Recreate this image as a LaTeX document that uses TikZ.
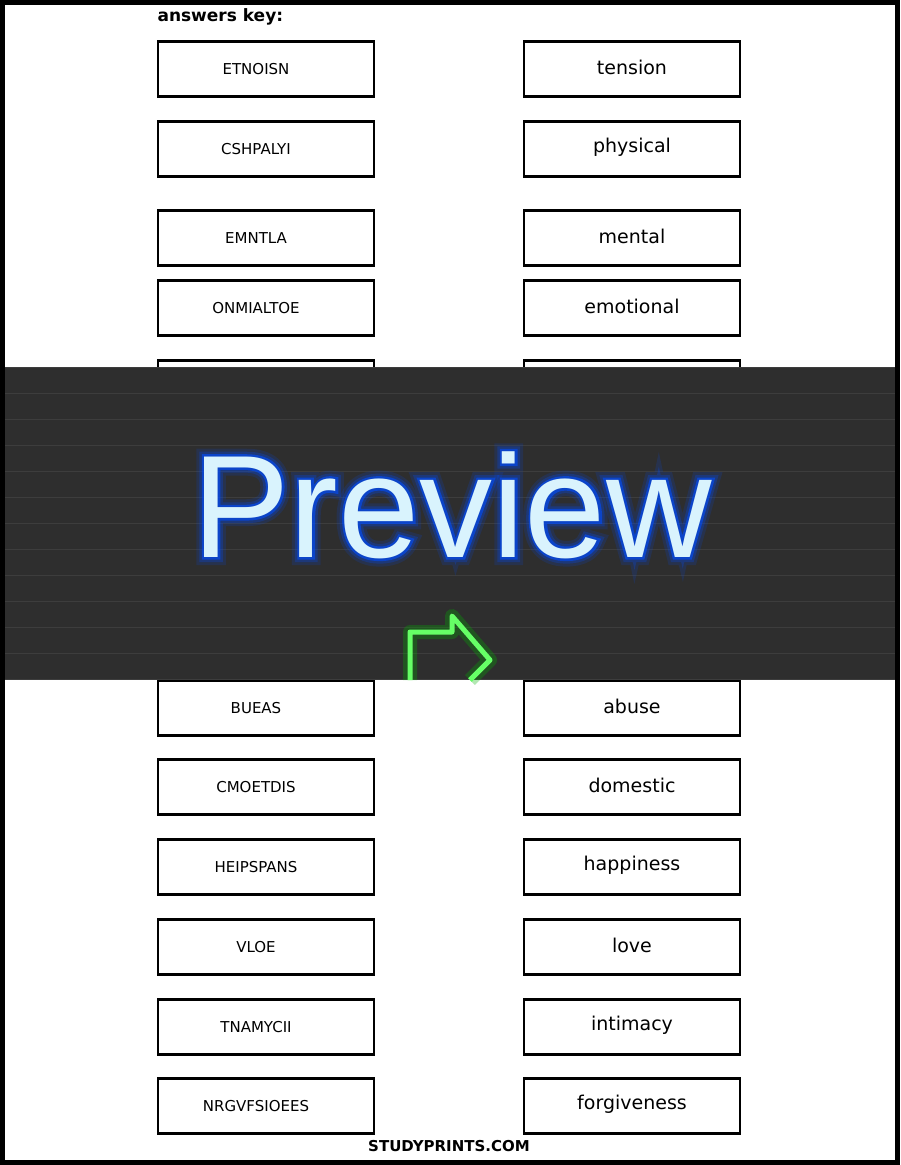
\documentclass[tikz,border=0pt]{standalone}
\usepackage{fontspec}
\setmainfont{DejaVu Sans}
\newfontfamily\neonfont{Liberation Sans}
\usetikzlibrary{positioning}

\begin{document}
\begin{tikzpicture}[x=1pt, y=-1pt,
    wordbox/.style={draw=black, line width=2.5pt, minimum width=216pt, minimum height=55pt, inner sep=0pt},
    scrambled/.style={font=\fontsize{15}{17}\selectfont},
    answer/.style={font=\fontsize{19}{21}\selectfont},
]
\useasboundingbox (0,0) rectangle (900,1165);
\fill[white] (0,0) rectangle (900,1165);

% rows of boxes
\foreach \y/\lw/\rw [count=\i] in {69/ETNOISN/tension, 149/CSHPALYI/physical, 238/EMNTLA/mental, 308/ONMIALTOE/emotional, 388//, 468//, 548//, 628//, 708/BUEAS/abuse, 787/CMOETDIS/domestic, 867/HEIPSPANS/happiness, 947/VLOE/love, 1027/TNAMYCII/intimacy, 1106/NRGVFSIOEES/forgiveness} {
  \node[wordbox] (left\i) at (266,\y) {};
  \node[wordbox] (right\i) at (632,\y) {};
  \node[scrambled] at (256,\y) {\lw};
  \node[answer] at (632,\y-2) {\rw};
}

\node[font=\bfseries\fontsize{17}{19}\selectfont, anchor=west] (title) at (154,17) {answers key:};
\node[font=\bfseries\fontsize{15}{17}\selectfont] (footer) at (449,1146) {STUDYPRINTS.COM};

% preview banner
\fill[black!82] (0,367) rectangle (900,680);
\foreach \r in {0,...,12} {
  \draw[black!76, line width=1pt] (0,367+\r*26) -- (900,367+\r*26);
}
\draw[green!70!black, line width=14pt, opacity=0.3, line join=round] (410,680) -- (410,632) -- (452,632) -- (452,616) -- (490,660) -- (470,680);
\draw[green!60!white, line width=5pt, line join=round] (410,680) -- (410,632) -- (452,632) -- (452,616) -- (490,660) -- (470,680);
\foreach \w/\o in {16/0.15, 10/0.25, 5/0.6} {
  \node[font=\neonfont\fontsize{146}{146}\selectfont, text=blue, opacity=\o] at (452,505) {\pgfsetlinewidth{\w pt}\pgfsetstrokecolor{blue!70!cyan}\pgfsetstrokeopacity{\o}\special{pdf:literal 1 Tr}Preview\special{pdf:literal 0 Tr}};
}
\node[font=\neonfont\fontsize{146}{146}\selectfont, text=cyan!15!white] (preview) at (452,505) {Preview};

% outer frame
\draw[black, line width=5pt] (2.5,2.5) rectangle (897.5,1162.5);
\end{tikzpicture}
\end{document}
